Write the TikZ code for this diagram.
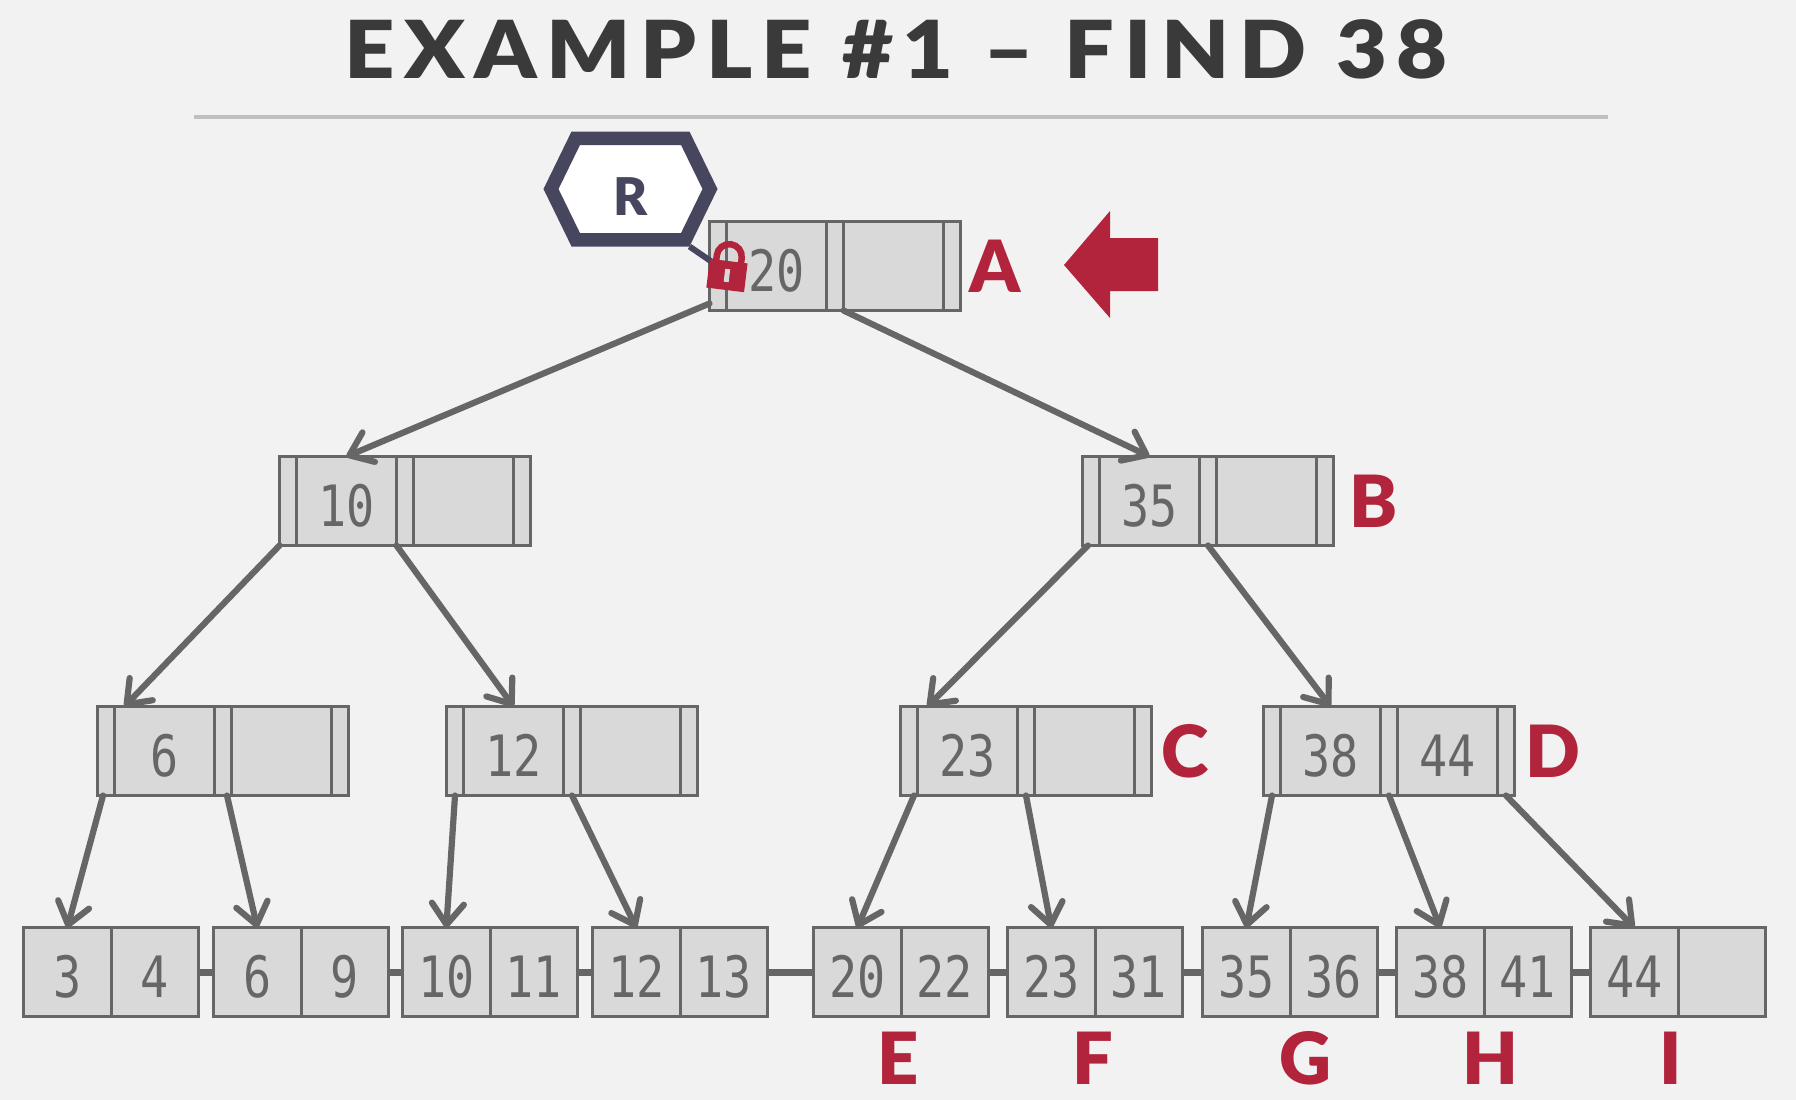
\documentclass[tikz,border=0pt]{standalone}
\usepackage{fontspec}
\setmainfont{Lato}[BoldFont={Lato Black}]
\newfontfamily\cellfont[FakeStretch=0.82]{DejaVu Sans Mono}
\newfontfamily\titlefont[LetterSpace=12,FakeStretch=1.1]{Lato Black}
\usetikzlibrary{positioning,arrows.meta,shapes.symbols}

\definecolor{pagebg}{HTML}{F2F2F2}
\definecolor{cellfill}{HTML}{D9D9D9}
\definecolor{cellline}{HTML}{666666}
\definecolor{latchred}{HTML}{B2243C}
\definecolor{rootnavy}{HTML}{46465F}
\definecolor{titlegray}{HTML}{3A3A3A}
\definecolor{rulegray}{HTML}{C0C0C0}

\begin{document}
\begin{tikzpicture}[
            x=1pt, y=-1pt,
            cell/.style={draw=cellline, fill=cellfill, line width=3.2pt, inner sep=0pt, outer sep=0pt,
                text=cellline, text height=50pt, text depth=0pt, font=\cellfont\fontsize{57}{57}\selectfont},
            ptrcell/.style={cell, minimum width=17pt, minimum height=89pt},
            keycell/.style={cell, minimum width=100pt, minimum height=89pt},
            leafcell/.style={cell, minimum width=87.6pt, minimum height=88.5pt},
            letter/.style={text=latchred, inner sep=0pt, font=\bfseries\fontsize{72}{72}\selectfont},
            child/.style={draw=cellline, line width=6.2pt, line cap=round,
                -{Straight Barb[length=21pt, width=32pt, round]}},
            link/.style={draw=cellline, line width=7pt},
        ]
            \useasboundingbox (0,0) rectangle (1796,1100);
            \fill[pagebg] (0,0) rectangle (1796,1100);

            \node[text=titlegray, font=\titlefont\fontsize{80}{80}\selectfont] (title) at (896,49) {EXAMPLE \#1 – FIND 38};
            \draw[draw=rulegray, line width=4.6pt] (194,117) -- (1608,117);

            % inner nodes
            \foreach \name/\px/\py/\keya/\keyb in {A/709.5/266/20/{}, n10/279.5/501/10/{}, B/1082.5/501/35/{},
                n6/97.5/751/6/{}, n12/446.5/751/12/{}, C/900.5/751/23/{}, D/1263.5/751/38/44} {
                \node[ptrcell, anchor=west] (\name-p0) at (\px,\py) {};
                \node[keycell, right=0pt of \name-p0] (\name-k1) {\keya};
                \node[ptrcell, right=0pt of \name-k1] (\name-p1) {};
                \node[keycell, right=0pt of \name-p1] (\name-k2) {\keyb};
                \node[ptrcell, right=0pt of \name-k2] (\name-p2) {};
            }

            % leaf nodes
            \foreach \name/\px/\keya/\keyb in {leaf3/23.5/3/4, leaf6/213.5/6/9, leaf10/402.5/10/11, leaf12/592.5/12/13,
                leaf20/813.5/20/22, leaf23/1007.5/23/31, leaf35/1202.5/35/36, leaf38/1396.5/38/41, leaf44/1590.5/44/{}} {
                \node[leafcell, anchor=west] (\name-k1) at (\px,972) {\keya};
                \node[leafcell, right=0pt of \name-k1] (\name-k2) {\keyb};
            }

            \foreach \from/\to in {leaf3/leaf6, leaf6/leaf10, leaf10/leaf12, leaf12/leaf20,
                leaf20/leaf23, leaf23/leaf35, leaf35/leaf38, leaf38/leaf44} {
                \draw[link] (\from-k2.east) -- (\to-k1.west);
            }

            \draw[child] ([yshift=7pt]A-p0.south west) -- (n10-k1.north);
            \draw[child] (A-p1.south east) -- (B-k1.north);
            \draw[child] (n10-p0.south west) -- ([xshift=10pt]n6-k1.north west);
            \draw[child] (n10-p1.south west) -- (n12-k1.north);
            \draw[child] ([xshift=-3pt]B-p0.south) -- ([xshift=10pt]C-k1.north west);
            \draw[child] (B-p1.south) -- (D-k1.north);
            \draw[child] ([xshift=5pt]C-p0.south) -- (leaf20-k1.north);
            \draw[child] ([xshift=-3pt]n6-p0.south) -- (leaf3-k1.north);
            \draw[child] ([xshift=4pt]n6-p1.south) -- (leaf6-k1.north);
            \foreach \from/\to in {n12-p0/leaf10, n12-p1/leaf12,
                C-p1/leaf23, D-p0/leaf35, D-p1/leaf38, D-p2/leaf44} {
                \draw[child] (\from.south) -- (\to-k1.north);
            }

            % root latch
            \node[signal, signal to=west and east, signal pointer angle=128, draw=rootnavy, fill=white, line width=13.5pt,
                minimum width=159pt, minimum height=101.5pt, inner sep=0pt, text=rootnavy, text height=52pt, text depth=0pt,
                font=\bfseries\fontsize{52}{52}\selectfont] (R) at (630.5,189) {R};
            \draw[draw=rootnavy, line width=6pt] (R.south east) -- (A-p0.center);

            \begin{scope}[shift={(727,275)}, rotate=-7]
                \draw[draw=latchred, line width=6.5pt] (-12.5,-12) -- (-12.5,-18.5) arc[start angle=180, end angle=360, radius=12.5] -- (12.5,-12);
                \fill[latchred] (-19,-14) rectangle (19,15);
                \fill[cellfill] (-2.5,-6) rectangle (2.5,7);
            \end{scope}

            \node[letter, right=9pt of A-p2] (lblA) {A};
            \node[letter, right=16pt of B-p2] (lblB) {B};
            \node[letter, right=10pt of C-p2] (lblC) {C};
            \node[letter, right=11pt of D-p2] (lblD) {D};
            \node[letter] (lblE) at (898,1058) {E};
            \node[letter] (lblF) at (1093,1058) {F};
            \node[letter] (lblG) at (1305,1058) {G};
            \node[letter] (lblH) at (1490,1058) {H};
            \node[letter] (lblI) at (1671,1058) {I};

            \fill[latchred] (1064,265) -- (1110,211) -- (1110,238) -- (1158,238) -- (1158,291) -- (1110,291) -- (1110,318) -- cycle;

        \end{tikzpicture}
\end{document}
